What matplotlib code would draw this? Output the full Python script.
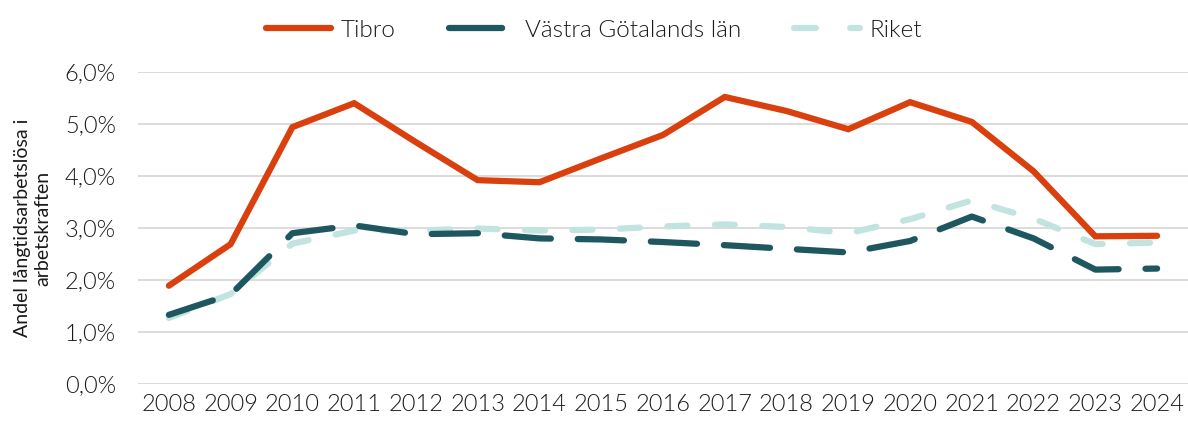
import matplotlib.pyplot as plt
from matplotlib.ticker import FuncFormatter
from matplotlib.lines import Line2D

# ── data ────────────────────────────────────────────
years = [str(y) for y in range(2008, 2025)]
tibro = [1.89, 2.69, 4.94, 5.40, 4.65, 3.92, 3.88, 4.34, 4.79, 5.52,
         5.25, 4.90, 5.42, 5.04, 4.09, 2.84, 2.85]
vgr   = [1.33, 1.72, 2.90, 3.05, 2.88, 2.90, 2.80, 2.78, 2.73, 2.67,
         2.60, 2.53, 2.75, 3.22, 2.80, 2.20, 2.22]
riket = [1.27, 1.73, 2.70, 2.95, 2.95, 2.99, 2.95, 2.97, 3.03, 3.07,
         3.02, 2.90, 3.17, 3.53, 3.18, 2.69, 2.72]
# ────────────────────────────────────────────────────

plt.rcParams['font.family'] = ['Lato', 'DejaVu Sans']
plt.rcParams['font.weight'] = 300
TXT = "#1A1A1A"

fig = plt.figure(figsize=(11.88, 4.23), dpi=100)
ax = fig.add_axes([138/1188, 1 - 384/423, 1050/1188, 312/423])

x = range(len(years))
ax.plot(x, tibro, color="#D9400E", lw=4.5, solid_capstyle="round",
        solid_joinstyle="miter", zorder=4)
ax.plot(x, vgr, color="#1F5761", lw=4.5, dashes=(7.4, 4.3),
        dash_capstyle="round", zorder=3)
ax.plot(x, riket, color="#C1E4E0", lw=4.5, dashes=(3.2, 4.4),
        dash_capstyle="round", zorder=2)

ax.set_xlim(-0.5, len(years) - 0.5)
ax.set_ylim(0, 6)
ax.set_yticks([0, 1, 2, 3, 4, 5, 6])
ax.yaxis.set_major_formatter(FuncFormatter(lambda v, p: f"{v:.1f}%".replace(".", ",")))
ax.set_xticks(list(x))
ax.set_xticklabels(years)
ax.grid(axis="y", color="#D9D9D9", lw=1.3)
ax.set_axisbelow(True)
for s in ax.spines.values():
    s.set_visible(False)
ax.tick_params(axis="both", length=0, labelsize=17, colors=TXT)
ax.tick_params(axis="y", pad=16)
ax.tick_params(axis="x", pad=7)

ax.set_ylabel("Andel långtidsarbetslösa i\narbetskraften", fontsize=14,
              color=TXT, linespacing=1.2, labelpad=10)

# legend handles drawn to look like the reference's short samples
handles = [
    Line2D([], [], color="#D9400E", lw=4.5, solid_capstyle="round"),
    Line2D([], [], color="#1F5761", lw=4.5, dashes=(8.5, 20), dash_capstyle="round"),
    Line2D([], [], color="#C1E4E0", lw=4.5, dashes=(3.5, 5.5), dash_capstyle="round"),
]
leg = fig.legend(handles, ["Tibro", "Västra Götalands län", "Riket"],
                 loc="upper center", bbox_to_anchor=(0.5, 1.005), ncol=3,
                 frameon=False, fontsize=17.5, handlelength=2.7,
                 columnspacing=2.2, handletextpad=0.4)
for t in leg.get_texts():
    t.set_color(TXT)

fig.savefig("out.png", dpi=100)
